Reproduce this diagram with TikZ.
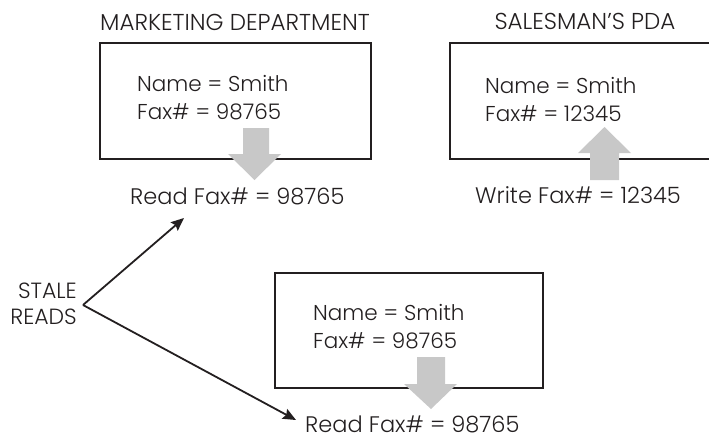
\documentclass[tikz,border=0pt]{standalone}
\usepackage{fontspec}
\IfFontExistsTF{Poppins Light}{\setmainfont{Poppins Light}}{\setmainfont{Poppins}}
\usetikzlibrary{arrows.meta}
\definecolor{ink}{RGB}{35,31,32}
\definecolor{arrowgray}{RGB}{200,200,200}
\tikzset{
  txt/.style={inner sep=0pt, text=ink, font=\fontsize{21.5}{24}\selectfont},
  lbl/.style={txt, font=\fontsize{22.5}{24}\selectfont},
  ttl/.style={txt, font=\fontsize{23}{24}\selectfont},
  side/.style={txt, font=\fontsize{22}{24}\selectfont},
  box/.style={draw=ink, line width=2.4pt, inner sep=0pt},
  blockarrow/.style={fill=arrowgray, draw=none},
  pointer/.style={draw=ink, line width=1.8pt, -{Stealth[length=13pt,width=11pt,inset=2pt]}}
}
\begin{document}
\begin{tikzpicture}[x=1pt,y=-1pt]
\useasboundingbox (0,0) rectangle (709,440);
\clip (0,0) rectangle (709,440);
% titles
\node[ttl, anchor=base] (t1) at (235,30) {MARKETING DEPARTMENT};
\node[ttl, anchor=base] (t2) at (585,29) {SALESMAN’S PDA};
% boxes
\node[box, minimum width=271pt, minimum height=116pt] (b1) at (235.5,101) {};
\node[box, minimum width=270pt, minimum height=116pt] (b2) at (585,101) {};
\node[box, minimum width=268pt, minimum height=115pt] (b3) at (409,330.5) {};
% box contents
\node[txt, anchor=base west] (n1) at (137,91) {Name = Smith};
\node[txt, anchor=base west] (f1) at (137,119) {Fax\# = 98765};
\node[txt, anchor=base west] (n2) at (485,93) {Name = Smith};
\node[txt, anchor=base west] (f2) at (485,121) {Fax\# = 12345};
\node[txt, anchor=base west] (n3) at (313,320) {Name = Smith};
\node[txt, anchor=base west] (f3) at (313,348) {Fax\# = 98765};
% block arrows
\fill[blockarrow] (243,128) -- (269,128) -- (269,154) -- (281,154) -- (254.5,180) -- (228,154) -- (243,154) -- cycle;
\fill[blockarrow] (590,180) -- (619,180) -- (619,153) -- (631,153) -- (604.5,127) -- (578,153) -- (590,153) -- cycle;
\fill[blockarrow] (417,357) -- (445,357) -- (445,384) -- (457,384) -- (431,409) -- (404,384) -- (417,384) -- cycle;
% labels
\node[lbl, anchor=base west] (r1) at (130,204) {Read Fax\# = 98765};
\node[lbl, anchor=base west] (w2) at (475,203) {Write Fax\# = 12345};
\node[lbl, anchor=base west] (r3) at (305,432) {Read Fax\# = 98765};
\node[side, anchor=base east] (s1) at (77,298) {STALE};
\node[side, anchor=base east] (s2) at (77,324) {READS};
% pointers
\coordinate (apex) at (83,305);
\coordinate (tip1) at (184,218);
\coordinate (tip3) at (296,420);
\draw[pointer] (apex) -- (tip1);
\draw[pointer] (apex) -- (tip3);
\end{tikzpicture}
\end{document}
